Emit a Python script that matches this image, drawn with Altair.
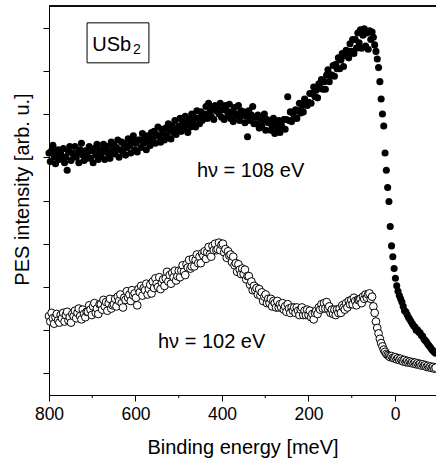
import altair as alt
import pandas as pd

FONT = "Liberation Sans"

# Measurement grid: binding energy in meV, 800 down to -94 in 3 meV steps
energy_start = 800
energy_step = 3

# hv = 108 eV (filled dots), intensity in arb. units (one y tick = 1 unit)
filled_108 = [
    11.2, 10.8, 11.3, 11.55, 11.0, 10.7, 11.1, 11.35, 10.9, 11.15,
    11.05, 11.4, 10.75, 11.0, 10.4, 11.25, 11.5, 10.85, 11.2, 11.1,
    11.5, 11.0, 11.2, 10.75, 11.35, 11.65, 11.1, 10.85, 11.3, 10.95,
    11.25, 11.5, 10.95, 11.3, 10.75, 11.4, 11.1, 11.6, 10.9, 11.35,
    11.05, 11.35, 11.6, 10.9, 11.25, 11.5, 11.15, 10.95, 11.7, 11.3,
    11.55, 11.15, 11.45, 11.8, 11.0, 11.35, 11.7, 11.25, 11.6, 11.1,
    11.45, 11.85, 11.55, 11.2, 11.75, 12.0, 11.35, 11.65, 11.25, 11.8,
    11.8, 11.45, 12.1, 11.65, 11.9, 11.35, 12.0, 11.75, 11.55, 12.15,
    11.85, 12.2, 11.65, 12.05, 12.4, 11.95, 11.7, 12.3, 12.1, 11.8,
    12.35, 12.0, 12.55, 12.25, 11.85, 12.45, 12.15, 12.7, 12.05, 12.3,
    12.45, 12.8, 12.2, 12.65, 12.35, 12.9, 12.55, 12.15, 12.75, 12.4,
    13.0, 12.6, 12.85, 12.4, 13.15, 12.8, 12.55, 13.1, 12.7, 12.95,
    13.0, 13.35, 12.8, 13.5, 13.1, 12.9, 13.25, 12.75, 13.4, 13.15,
    13.35, 13.0, 13.5, 12.85, 13.2, 12.75, 13.4, 13.15, 12.95, 13.45,
    12.8, 13.1, 12.65, 13.3, 13.0, 12.9, 13.4, 12.7, 13.15, 12.95,
    13.1, 12.6, 12.9, 11.95, 13.15, 12.7, 12.95, 13.35, 12.55, 12.85,
    12.55, 12.95, 12.35, 12.8, 12.45, 12.7, 13.0, 12.25, 12.75, 12.6,
    12.65, 12.25, 12.45, 12.8, 12.1, 12.55, 12.35, 12.7, 12.15, 12.5,
    12.35, 12.75, 12.3, 12.75, 13.8, 12.7, 13.1, 12.65, 13.05, 12.85,
    13.2, 12.8, 13.15, 13.5, 13.05, 13.4, 13.1, 13.7, 13.5, 13.4,
    13.55, 13.95, 13.5, 13.95, 14.25, 13.8, 14.1, 13.75, 14.4, 14.2,
    14.6, 14.15, 14.5, 14.15, 14.8, 15.05, 14.5, 14.8, 14.8, 15.25,
    14.75, 15.3, 15.1, 15.6, 15.1, 15.5, 15.8, 15.2, 15.7, 15.95,
    15.9, 15.6, 16.25, 15.9, 16.45, 15.8, 16.45, 16.05, 16.75, 16.3,
    16.9, 16.05, 16.65, 16.95, 16.15, 16.75, 16.0, 16.85, 16.45, 16.8,
    16.55, 16.2, 15.9, 15.55, 15.15, 14.5, 13.7, 13.0, 12.45, 11.2,
    10.4, 9.6, 8.95, 7.8, 6.9, 6.4, 5.85, 5.4, 5.05, 4.8,
    4.6, 4.45, 4.3, 4.1, 3.9, 3.85, 3.72, 3.6, 3.5, 3.4,
    3.3, 3.2, 3.15, 3.0, 3.02, 2.9, 2.88, 2.75, 2.72, 2.58,
    2.52, 2.45, 2.35, 2.28, 2.2, 2.1, 2.05, 1.98, 1.93,
]

# hv = 102 eV (open circles)
open_102 = [
    3.65, 3.4, 3.8, 3.55, 3.3, 3.6, 3.75, 3.45, 3.35, 3.7,
    3.55, 3.8, 3.4, 3.7, 3.85, 3.45, 3.6, 3.35, 3.75, 3.65,
    3.9, 3.55, 3.8, 4.0, 3.65, 3.5, 3.95, 3.75, 3.6, 3.85,
    3.85, 4.15, 3.95, 3.7, 4.1, 4.25, 3.8, 4.0, 3.75, 4.2,
    4.2, 3.95, 4.4, 4.1, 4.3, 3.9, 4.25, 4.45, 4.0, 4.15,
    4.2, 4.45, 4.1, 4.55, 4.35, 4.65, 4.25, 4.05, 4.5, 4.4,
    4.8, 4.5, 4.65, 4.35, 4.85, 4.6, 4.7, 4.5, 4.15, 4.9,
    4.75, 5.05, 4.6, 4.95, 4.85, 5.15, 4.65, 4.9, 5.1, 4.7,
    5.25, 4.95, 5.4, 5.15, 5.0, 5.45, 4.9, 5.2, 5.35, 5.05,
    5.4, 5.7, 5.25, 5.55, 5.15, 5.65, 5.45, 5.75, 5.3, 5.5,
    5.75, 5.45, 5.75, 6.0, 5.7, 5.55, 6.05, 5.9, 6.25, 5.85,
    5.95, 6.3, 5.95, 6.25, 6.5, 6.1, 6.4, 6.1, 6.55, 6.45,
    6.65, 6.3, 6.6, 6.85, 6.5, 6.4, 6.9, 6.7, 7.0, 6.7,
    6.75, 7.05, 6.7, 6.95, 7.0, 6.6, 6.75, 6.35, 6.65, 6.45,
    6.5, 6.15, 6.4, 6.0, 6.1, 5.7, 6.05, 5.8, 5.6, 5.85,
    5.6, 5.8, 5.35, 5.5, 5.5, 5.1, 5.25, 4.85, 5.05, 4.85,
    4.95, 4.65, 4.9, 4.6, 4.75, 4.35, 4.55, 4.65, 4.25, 4.45,
    4.25, 4.45, 4.1, 4.35, 4.25, 4.05, 4.35, 4.05, 4.2, 4.05,
    4.25, 3.95, 4.1, 3.85, 4.2, 4.0, 3.8, 4.05, 3.9, 4.05,
    3.8, 4.05, 3.9, 3.7, 3.95, 4.05, 3.7, 3.9, 3.7, 3.95,
    3.7, 3.9, 3.6, 3.75, 3.5, 3.8, 3.9, 3.75, 4.05, 3.95,
    4.2, 4.0, 4.25, 4.0, 4.3, 4.0, 4.1, 3.8, 3.95, 3.75,
    3.95, 3.7, 3.95, 3.8, 4.0, 3.8, 4.15, 4.05, 3.95, 4.25,
    4.05, 4.35, 4.2, 4.4, 4.2, 4.5, 4.35, 4.15, 4.4, 4.4,
    4.45, 4.25, 4.55, 4.45, 4.65, 4.5, 4.65, 4.7, 4.45, 4.55,
    4.1, 3.8, 3.4, 3.1, 2.85, 2.6, 2.4, 2.25, 2.1, 2.0,
    1.9, 1.85, 1.8, 1.75, 1.8, 1.72, 1.7, 1.75, 1.65, 1.7,
    1.62, 1.68, 1.6, 1.55, 1.62, 1.52, 1.58, 1.5, 1.55, 1.48,
    1.52, 1.45, 1.5, 1.42, 1.47, 1.4, 1.44, 1.36, 1.42, 1.35,
    1.38, 1.3, 1.35, 1.28, 1.32, 1.25, 1.3, 1.22, 1.26,
]

x_major_ticks = [800, 600, 400, 200, 0]
x_minor_ticks = [700, 500, 300, 100]
y_ticks = [1, 2, 3, 4, 5, 6, 7, 8, 9, 10, 11, 12, 13, 14, 15, 16, 17]
x_domain = [800, -94.8]
y_domain = [0, 18]

labels_text = ["h\u03bd = 108 eV", "h\u03bd = 102 eV"]
labels_x = [458, 548]
labels_y = [10.1, 2.18]

sample_name = "USb"
sample_sub = "2"
box_x = [712, 569]
box_y = [17.22, 15.37]
sample_x = 700
sample_y = 15.9
sub_x = 606
sub_y = 15.78

W, H = 387, 389

energies = [energy_start - energy_step * i for i in range(len(filled_108))]
df = pd.DataFrame({"energy": energies, "i108": filled_108, "i102": open_102})

xs = alt.Scale(domain=x_domain, nice=False, zero=False)
ys = alt.Scale(domain=y_domain, nice=False, zero=False)

x_axis = alt.Axis(
    values=x_major_ticks, title="Binding energy [meV]", grid=False,
    tickSize=6, labelPadding=4, labelFontSize=17.5, labelFont=FONT,
    labelColor="black", tickColor="black", domainColor="black",
    labelFlush=False, labelOverlap=False,
    titleFont=FONT, titleFontSize=20, titleFontWeight="normal",
    titleColor="black", titleBaseline="alphabetic", titleY=58,
)
y_axis = alt.Axis(
    values=y_ticks, labels=False, title="PES intensity [arb. u.]", grid=False,
    tickSize=6, tickColor="black", domainColor="black",
    titleFont=FONT, titleFontSize=20, titleFontWeight="normal",
    titleColor="black", titleBaseline="alphabetic", titleX=-21, titleY=183,
    titleAngle=270,
)

base = alt.Chart(df)

open_pts = base.mark_point(
    shape="circle", filled=False, fill="white", stroke="black",
    strokeWidth=1, size=60, opacity=1,
).encode(
    x=alt.X("energy:Q", scale=xs, axis=x_axis),
    y=alt.Y("i102:Q", scale=ys, axis=y_axis),
)

filled_pts = base.mark_circle(size=50, color="black", opacity=1).encode(
    x=alt.X("energy:Q", scale=xs),
    y=alt.Y("i108:Q", scale=ys),
)

lab_df = pd.DataFrame({"t": labels_text, "x": labels_x, "y": labels_y})
labels = alt.Chart(lab_df).mark_text(
    font=FONT, fontSize=20, align="left", baseline="alphabetic", color="black"
).encode(x=alt.X("x:Q", scale=xs), y=alt.Y("y:Q", scale=ys), text="t:N")

box_df = pd.DataFrame({"x": [box_x[0]], "x2": [box_x[1]], "y": [box_y[0]], "y2": [box_y[1]]})
box = alt.Chart(box_df).mark_rect(fill="white", stroke="black", strokeWidth=1).encode(
    x=alt.X("x:Q", scale=xs), x2="x2:Q", y=alt.Y("y:Q", scale=ys), y2="y2:Q"
)

name_df = pd.DataFrame({"t": [sample_name], "x": [sample_x], "y": [sample_y]})
name = alt.Chart(name_df).mark_text(
    font=FONT, fontSize=20, align="left", baseline="alphabetic", color="black"
).encode(x=alt.X("x:Q", scale=xs), y=alt.Y("y:Q", scale=ys), text="t:N")

sub_df = pd.DataFrame({"t": [sample_sub], "x": [sub_x], "y": [sub_y]})
sub = alt.Chart(sub_df).mark_text(
    font=FONT, fontSize=14, align="left", baseline="alphabetic", color="black"
).encode(x=alt.X("x:Q", scale=xs), y=alt.Y("y:Q", scale=ys), text="t:N")

minor_df = pd.DataFrame({"x": x_minor_ticks})
minor = alt.Chart(minor_df).mark_rule(color="black", strokeWidth=1).encode(
    x=alt.X("x:Q", scale=xs), y=alt.value(H), y2=alt.value(H + 3)
)

top_frame = alt.Chart(minor_df).mark_rule(color="black", strokeWidth=1).encode(
    x=alt.value(0), x2=alt.value(W), y=alt.value(0)
)

chart = alt.layer(
    open_pts, filled_pts, labels, box, name, sub, minor, top_frame
).properties(
    width=W, height=H,
    autosize=alt.AutoSizeParams(type="none"),
    padding={"left": 49, "top": 6, "right": 0, "bottom": 66},
    background="white",
).configure_view(stroke=None)

chart.save("out.html", embed_options={"renderer": "svg", "actions": False})
